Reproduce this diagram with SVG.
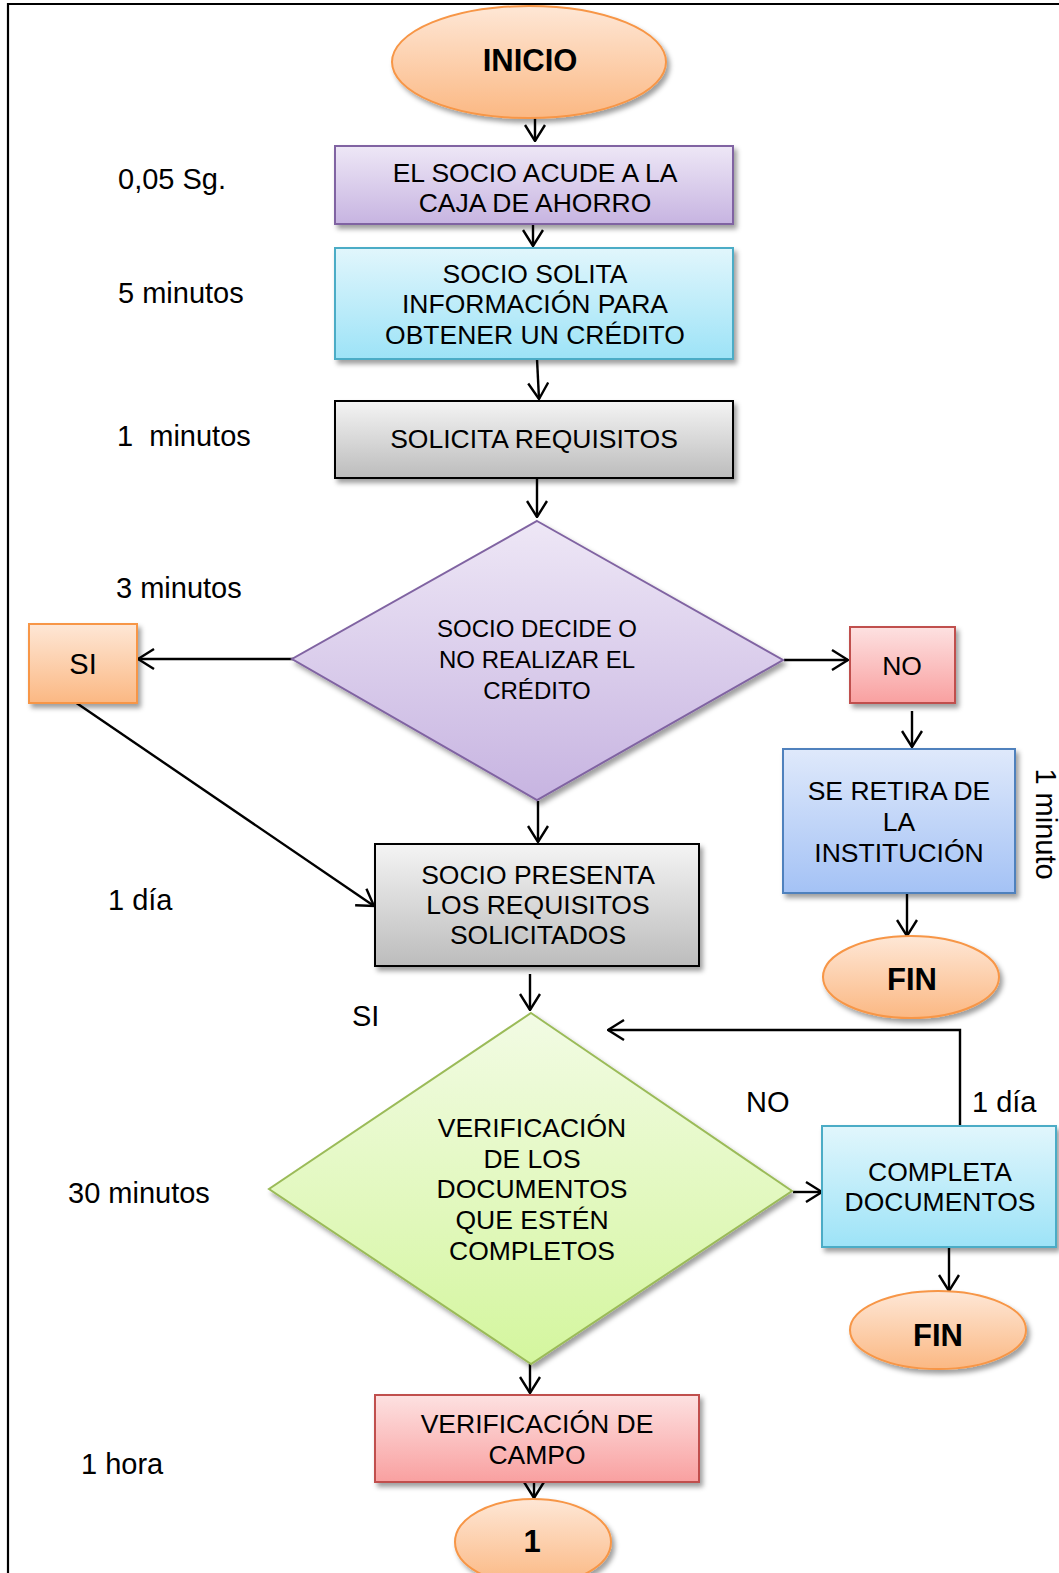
<svg xmlns="http://www.w3.org/2000/svg" width="1059" height="1573" viewBox="0 0 1059 1573">
  <defs>
    <style>
      text { font-family: "Liberation Sans", Arial, sans-serif; fill: #000; }
      .t26 { font-size: 26.5px; text-anchor: middle; }
      .t24 { font-size: 24px; text-anchor: middle; }
      .tb { font-size: 31px; font-weight: bold; text-anchor: middle; }
      .lbl { font-size: 29px; white-space: pre; }
      .lblc { font-size: 29px; text-anchor: middle; }
      .conn { fill: none; stroke: #000; stroke-width: 2.4; }
      .arrow { marker-end: url(#head); }
      .sh { filter: url(#shadow); }
    </style>
    <filter id="shadow" x="-10%" y="-10%" width="125%" height="130%">
      <feDropShadow dx="3" dy="4" stdDeviation="2.5" flood-color="#000" flood-opacity="0.38"/>
    </filter>
    <marker id="head" viewBox="0 0 18 22" refX="17" refY="11" markerWidth="18" markerHeight="22" markerUnits="userSpaceOnUse" orient="auto">
      <path d="M1,1 L17,11 L1,21" fill="none" stroke="#000" stroke-width="2.4"/>
    </marker>
    <linearGradient id="gOrange" x1="0" y1="0" x2="0" y2="1">
      <stop offset="0" stop-color="#fee7d6"/>
      <stop offset="1" stop-color="#fbb883"/>
    </linearGradient>
    <linearGradient id="gPurple" x1="0" y1="0" x2="0" y2="1">
      <stop offset="0" stop-color="#eee7f6"/>
      <stop offset="1" stop-color="#c7b4e1"/>
    </linearGradient>
    <linearGradient id="gCyan" x1="0" y1="0" x2="0" y2="1">
      <stop offset="0" stop-color="#e1f6fc"/>
      <stop offset="1" stop-color="#9de3f7"/>
    </linearGradient>
    <linearGradient id="gGray" x1="0" y1="0" x2="0" y2="1">
      <stop offset="0" stop-color="#f4f4f4"/>
      <stop offset="1" stop-color="#bcbcbc"/>
    </linearGradient>
    <linearGradient id="gRed" x1="0" y1="0" x2="0" y2="1">
      <stop offset="0" stop-color="#fde1e1"/>
      <stop offset="1" stop-color="#f9a0a0"/>
    </linearGradient>
    <linearGradient id="gBlue" x1="0" y1="0" x2="0" y2="1">
      <stop offset="0" stop-color="#dfe9fb"/>
      <stop offset="1" stop-color="#a4c2f5"/>
    </linearGradient>
    <linearGradient id="gGreen" x1="0" y1="0" x2="0" y2="1">
      <stop offset="0" stop-color="#f2fbe4"/>
      <stop offset="1" stop-color="#d4f69e"/>
    </linearGradient>
  </defs>

  <rect width="1059" height="1573" fill="#fff"/>

  <!-- page frame -->
  <path d="M8,1573 V4 H1059" fill="none" stroke="#000" stroke-width="2.2"/>

  <!-- time labels -->
  <g id="labels">
    <text class="lbl" x="118" y="189">0,05 Sg.</text>
    <text class="lbl" x="118" y="303">5 minutos</text>
    <text class="lbl" x="117" y="446">1  minutos</text>
    <text class="lbl" x="116" y="598">3 minutos</text>
    <text class="lbl" x="108" y="910">1 día</text>
    <text class="lbl" x="68" y="1203">30 minutos</text>
    <text class="lbl" x="81" y="1474">1 hora</text>
    <text class="lbl" x="352" y="1026">SI</text>
    <text class="lbl" x="746" y="1112">NO</text>
    <text class="lbl" x="972" y="1112">1 día</text>
    <text class="lblc" transform="translate(1046,824) rotate(90)" y="10">1 minuto</text>
  </g>

  <!-- connectors -->
  <g id="connectors">
    <line class="conn arrow" x1="535" y1="118" x2="535" y2="141"/>
    <line class="conn arrow" x1="533" y1="224" x2="533" y2="246"/>
    <line class="conn arrow" x1="537" y1="359" x2="539" y2="399"/>
    <line class="conn arrow" x1="537" y1="478" x2="537" y2="517"/>
    <line class="conn arrow" x1="304" y1="659" x2="138" y2="659"/>
    <line class="conn arrow" x1="784" y1="660" x2="848" y2="660"/>
    <line class="conn arrow" x1="75" y1="702" x2="374" y2="906"/>
    <line class="conn arrow" x1="538" y1="801" x2="538" y2="842"/>
    <line class="conn arrow" x1="912" y1="711" x2="912" y2="747"/>
    <line class="conn arrow" x1="907" y1="893" x2="907" y2="936"/>
    <line class="conn arrow" x1="530" y1="974" x2="530" y2="1010"/>
    <line class="conn arrow" x1="793" y1="1192" x2="822" y2="1192"/>
    <path class="conn arrow" d="M950,1127 H960 V1030 H608"/>
    <line class="conn arrow" x1="949" y1="1246" x2="949" y2="1291"/>
    <line class="conn arrow" x1="530" y1="1364" x2="530" y2="1393"/>
    <line class="conn arrow" x1="534" y1="1481" x2="534" y2="1498"/>
  </g>

  <g id="inicio">
    <ellipse class="sh" cx="529" cy="62" rx="137" ry="56" fill="url(#gOrange)" stroke="#f79646" stroke-width="2"/>
    <text class="tb" x="530" y="71">INICIO</text>
  </g>

  <g id="acude">
    <rect class="sh" x="335" y="146" width="398" height="78" fill="url(#gPurple)" stroke="#8064a2" stroke-width="2"/>
    <text class="t26" x="535" y="182">EL SOCIO ACUDE A LA</text>
    <text class="t26" x="535" y="212">CAJA DE AHORRO</text>
  </g>

  <g id="solita">
    <rect class="sh" x="335" y="248" width="398" height="111" fill="url(#gCyan)" stroke="#4bacc6" stroke-width="2"/>
    <text class="t26" x="535" y="283">SOCIO SOLITA</text>
    <text class="t26" x="535" y="313">INFORMACIÓN PARA</text>
    <text class="t26" x="535" y="344">OBTENER UN CRÉDITO</text>
  </g>

  <g id="requisitos">
    <rect class="sh" x="335" y="401" width="398" height="77" fill="url(#gGray)" stroke="#000" stroke-width="2"/>
    <text class="t26" x="534" y="448">SOLICITA REQUISITOS</text>
  </g>

  <g id="decide">
    <polygon class="sh" points="537,521 783,660 537,800 292,659" fill="url(#gPurple)" stroke="#8064a2" stroke-width="2"/>
    <text class="t24" x="537" y="637">SOCIO DECIDE O</text>
    <text class="t24" x="537" y="668">NO REALIZAR EL</text>
    <text class="t24" x="537" y="699">CRÉDITO</text>
  </g>

  <g id="si">
    <rect class="sh" x="29" y="624" width="108" height="79" fill="url(#gOrange)" stroke="#f79646" stroke-width="2"/>
    <text class="lblc" x="83" y="674">SI</text>
  </g>

  <g id="no">
    <rect class="sh" x="850" y="627" width="105" height="76" fill="url(#gRed)" stroke="#c0504d" stroke-width="2"/>
    <text class="t26" x="902" y="675">NO</text>
  </g>

  <g id="retira">
    <rect class="sh" x="783" y="749" width="232" height="144" fill="url(#gBlue)" stroke="#4f81bd" stroke-width="2"/>
    <text class="t26" x="899" y="800">SE RETIRA DE</text>
    <text class="t26" x="899" y="831">LA</text>
    <text class="t26" x="899" y="862">INSTITUCIÓN</text>
  </g>

  <g id="fin1">
    <ellipse class="sh" cx="911" cy="977" rx="88" ry="41" fill="url(#gOrange)" stroke="#f79646" stroke-width="2"/>
    <text class="tb" x="912" y="990">FIN</text>
  </g>

  <g id="presenta">
    <rect class="sh" x="375" y="844" width="324" height="122" fill="url(#gGray)" stroke="#000" stroke-width="2"/>
    <text class="t26" x="538" y="884">SOCIO PRESENTA</text>
    <text class="t26" x="538" y="914">LOS REQUISITOS</text>
    <text class="t26" x="538" y="944">SOLICITADOS</text>
  </g>

  <g id="verificacion">
    <polygon class="sh" points="531,1013 792,1191 531,1364 269,1189" fill="url(#gGreen)" stroke="#9bbb59" stroke-width="2"/>
    <text class="t26" x="532" y="1137">VERIFICACIÓN</text>
    <text class="t26" x="532" y="1168">DE LOS</text>
    <text class="t26" x="532" y="1198">DOCUMENTOS</text>
    <text class="t26" x="532" y="1229">QUE ESTÉN</text>
    <text class="t26" x="532" y="1260">COMPLETOS</text>
  </g>

  <g id="completa">
    <rect class="sh" x="822" y="1126" width="234" height="121" fill="url(#gCyan)" stroke="#4bacc6" stroke-width="2"/>
    <text class="t26" x="940" y="1181">COMPLETA</text>
    <text class="t26" x="940" y="1211">DOCUMENTOS</text>
  </g>

  <g id="fin2">
    <ellipse class="sh" cx="938" cy="1330" rx="88" ry="39" fill="url(#gOrange)" stroke="#f79646" stroke-width="2"/>
    <text class="tb" x="938" y="1346">FIN</text>
  </g>

  <g id="campo">
    <rect class="sh" x="375" y="1395" width="324" height="87" fill="url(#gRed)" stroke="#c0504d" stroke-width="2"/>
    <text class="t26" x="537" y="1433">VERIFICACIÓN DE</text>
    <text class="t26" x="537" y="1464">CAMPO</text>
  </g>

  <g id="conector-1">
    <ellipse class="sh" cx="533" cy="1542" rx="78" ry="43" fill="url(#gOrange)" stroke="#f79646" stroke-width="2"/>
    <text class="tb" x="532" y="1552">1</text>
  </g>
</svg>
